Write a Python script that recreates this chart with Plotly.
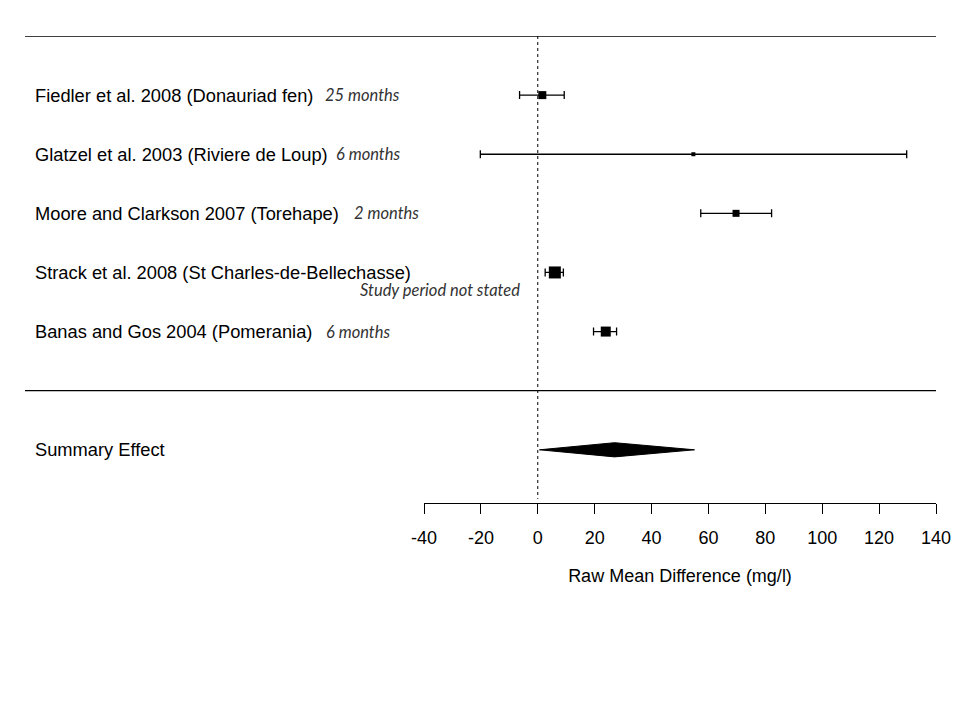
import plotly.graph_objects as go

# ---- data ----
studies = [
    "Fiedler et al. 2008 (Donauriad fen)",
    "Glatzel et al. 2003 (Riviere de Loup)",
    "Moore and Clarkson 2007 (Torehape)",
    "Strack et al. 2008 (St Charles-de-Bellechasse)",
    "Banas and Gos 2004 (Pomerania)",
]
periods = ["25 months", "6 months", "2 months", "Study period not stated", "6 months"]
estimate = [1.6, 54.7, 69.7, 6.0, 23.9]
ci_low = [-6.4, -20.2, 57.3, 2.6, 19.6]
ci_high = [9.3, 129.7, 82.2, 9.0, 27.7]
weight_size = [8, 4, 7, 12, 10]

summary_label = "Summary Effect"
summary_est = 27.0
summary_low = 0.6
summary_high = 55.1

x_ticks = [-40, -20, 0, 20, 40, 60, 80, 100, 120, 140]
x_title = "Raw Mean Difference (mg/l)"

# ---- layout constants (target page pixels) ----
OFF = 8                  # page body margin of the html page
W, H = 960 - OFF, 700 - OFF
L, R = 424 - OFF, 936 - OFF   # plot area x pixel span (figure coords)
T, B = 36 - OFF, 502.7 - OFF  # plot area y pixel span (figure coords)
rows = [1, 2, 3, 4, 5]
summary_row = 7
y_bottom = 7.9

def px_to_paper_x(px):
    # px is a target page pixel; annotation pad ~3px
    return (px - 3 - OFF - L) / (R - L)

fig = go.Figure()

# study estimates with CI
fig.add_trace(go.Scatter(
    x=estimate, y=rows, mode="markers",
    marker=dict(symbol="square", size=weight_size, color="black", opacity=1,
                line=dict(width=0)),
    error_x=dict(type="data", symmetric=False,
                 array=[h - e for h, e in zip(ci_high, estimate)],
                 arrayminus=[e - l for e, l in zip(estimate, ci_low)],
                 color="black", thickness=1.3, width=4),
    showlegend=False, hoverinfo="skip", cliponaxis=False,
))

# summary diamond
h = 0.12
fig.add_trace(go.Scatter(
    x=[summary_low, summary_est, summary_high, summary_est, summary_low],
    y=[summary_row, summary_row - h, summary_row, summary_row + h, summary_row],
    mode="lines", fill="toself", fillcolor="black",
    line=dict(color="black", width=1),
    showlegend=False, hoverinfo="skip",
))

# reference line at 0
fig.add_shape(type="line", xref="x", yref="y", x0=0, x1=0, y0=0, y1=7.83,
              line=dict(color="black", width=1, dash="dot"))

# horizontal separators
for yy in [0, 6]:
    fig.add_shape(type="line", xref="paper", yref="y",
                  x0=px_to_paper_x(25 + 3), x1=1.0, y0=yy, y1=yy,
                  line=dict(color="black", width=1.3))

# study labels
label_font = dict(family="Liberation Sans, Arial", size=18.3, color="black")
ital_font = dict(family="Lato", size=16.5, color="#333333")
for r, name in zip(rows, studies):
    fig.add_annotation(x=px_to_paper_x(36), xref="paper", y=r, yref="y",
                       text=name, showarrow=False, xanchor="left", yanchor="middle",
                       font=label_font)

period_x = [326, 337, 355, 361, 327]
period_dy = [0, 0, 0, 0.29, 0]
for r, p, px, dy in zip(rows, periods, period_x, period_dy):
    fig.add_annotation(x=px_to_paper_x(px), xref="paper", y=r + dy, yref="y",
                       text="<i>" + p + "</i>", showarrow=False,
                       xanchor="left", yanchor="middle", font=ital_font)

fig.add_annotation(x=px_to_paper_x(36), xref="paper", y=summary_row, yref="y",
                   text=summary_label, showarrow=False, xanchor="left", yanchor="middle",
                   font=label_font)

fig.update_layout(
    width=W, height=H,
    margin=dict(l=L, r=W - R, t=T, b=H - B, pad=0, autoexpand=False),
    paper_bgcolor="white", plot_bgcolor="white",
    xaxis=dict(range=[-40, 140], tickvals=x_ticks, ticktext=[str(t) for t in x_ticks],
               automargin=False,
               showgrid=False, zeroline=False, showline=True, linecolor="black",
               linewidth=1.3, ticks="outside", ticklen=10, tickwidth=1.3,
               tickcolor="black", ticklabelstandoff=8,
               tickfont=dict(family="Liberation Sans, Arial", size=18, color="black"),
               title=dict(text=x_title, standoff=22,
                          font=dict(family="Liberation Sans, Arial", size=18, color="black"))),
    yaxis=dict(range=[y_bottom, 0], showgrid=False, zeroline=False, showline=False,
               showticklabels=False, ticks="", automargin=False),
)

fig.write_html("out.html")
